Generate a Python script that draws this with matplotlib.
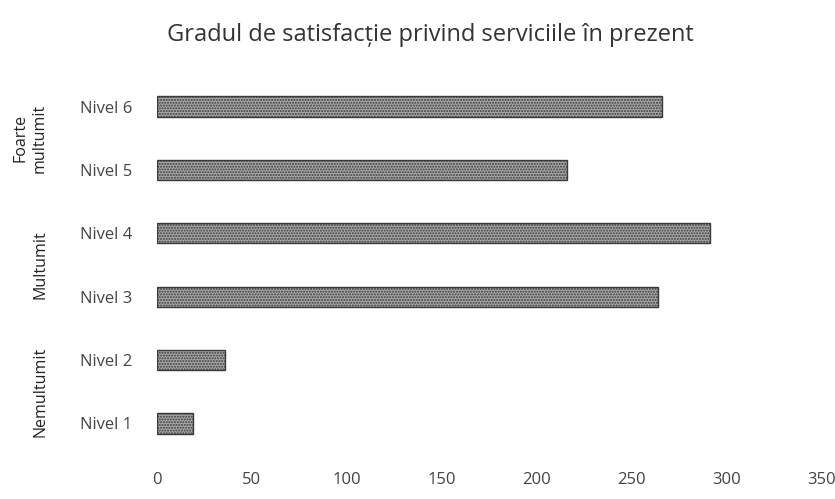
import matplotlib
matplotlib.use('Agg')
from matplotlib import pyplot as plt
from matplotlib.transforms import blended_transform_factory

# data
levels = ['Nivel 1', 'Nivel 2', 'Nivel 3', 'Nivel 4', 'Nivel 5', 'Nivel 6']
values = [19, 36, 264, 291, 216, 266]
groups = ['Nemultumit', 'Multumit', 'Foarte\nmultumit']
group_pos = [0.5, 2.5, 4.5]
xticks = [0, 50, 100, 150, 200, 250, 300, 350]

plt.rcParams['font.family'] = ['Open Sans', 'DejaVu Sans']
plt.rcParams['hatch.color'] = '#5a5a5a'
plt.rcParams['hatch.linewidth'] = 1.0

fig = plt.figure(figsize=(8.35, 4.99), dpi=100)
ax = fig.add_axes([0.188, 0.088, 0.796, 0.762])

ax.barh(range(len(levels)), values, height=0.32, color='#a8a8a8',
        edgecolor='#3a3a3a', linewidth=1.0, hatch='......')

ax.set_xlim(0, 350)
ax.set_ylim(-0.5, 5.5)
ax.set_xticks(xticks)
ax.set_xticklabels([str(t) for t in xticks])
ax.set_yticks(range(len(levels)))
ax.set_yticklabels(levels)
ax.tick_params(axis='both', length=0, labelsize=12, labelcolor='#444444')
ax.tick_params(axis='y', pad=18)
ax.tick_params(axis='x', pad=12)
for s in ax.spines.values():
    s.set_visible(False)

# group labels on the far left
tr = blended_transform_factory(fig.transFigure, ax.transData)
group_x = [0.049, 0.049, 0.036]
for g, y, gx in zip(groups, group_pos, group_x):
    fig.text(gx, y, g, transform=tr, rotation=90, ha='center', va='center',
             fontsize=11.5, color='#222222', multialignment='center',
             linespacing=1.2)

fig.text(0.515, 0.93, 'Gradul de satisfacție privind serviciile în prezent',
         ha='center', va='center', fontsize=17, color='#333333')

plt.savefig('out.png', dpi=100)
